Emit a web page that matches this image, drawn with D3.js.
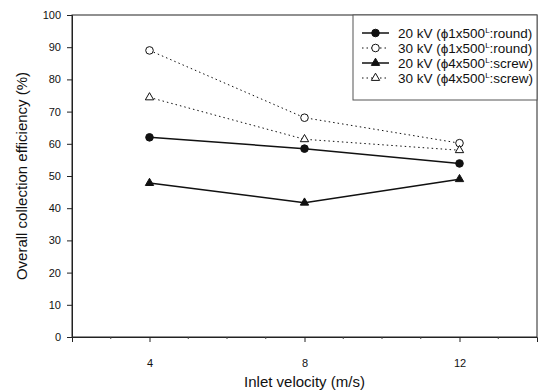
<!DOCTYPE html>
<html>
<head>
<meta charset="utf-8">
<script src="https://cdn.jsdelivr.net/npm/d3@7"></script>
<style>
  body { margin: 0; background: #fff; }
  text { font-family: "Liberation Sans", Arial, sans-serif; fill: #111; }
</style>
</head>
<body>
<div id="chart"></div>
<script>
// data
const velocities = [4, 8, 12];
const round20 = [62.0, 58.5, 53.9];
const round30 = [89.0, 68.1, 60.2];
const screw20 = [47.8, 41.7, 49.0];
const screw30 = [74.4, 61.4, 58.0];
const yTicks = d3.range(0, 101, 10);
const xTicks = [4, 8, 12];

const seriesList = [
    { name: "20 kV (\u03d51x500", tail: ":round)", values: round20, shape: "circle", filled: true, dash: null },
    { name: "30 kV (\u03d51x500", tail: ":round)", values: round30, shape: "circle", filled: false, dash: "1.5,3" },
    { name: "20 kV (\u03d54x500", tail: ":screw)", values: screw20, shape: "triangle", filled: true, dash: null },
    { name: "30 kV (\u03d54x500", tail: ":screw)", values: screw30, shape: "triangle", filled: false, dash: "1.5,3" }
];

const W = 539, H = 391;
const margin = { top: 15, right: 2, bottom: 54, left: 72 };
const width = W - margin.left - margin.right;
const height = H - margin.top - margin.bottom;

const svg = d3.select("#chart").append("svg")
    .attr("width", W)
    .attr("height", H);

const g = svg.append("g")
    .attr("transform", "translate(" + margin.left + "," + margin.top + ")");

const x = d3.scaleLinear().domain([2, 14]).range([0, width]);
const y = d3.scaleLinear().domain([0, 100]).range([height, 0]);

// frame
g.append("rect")
    .attr("width", width)
    .attr("height", height)
    .attr("fill", "none")
    .attr("stroke", "#222")
    .attr("stroke-width", 1);

// axes
const yAxis = g.append("g")
    .call(d3.axisLeft(y).tickValues(yTicks).tickSize(5).tickPadding(6));
const xAxis = g.append("g")
    .attr("transform", "translate(0," + height + ")")
    .call(d3.axisBottom(x).tickValues(xTicks).tickSize(5).tickPadding(17));

[yAxis, xAxis].forEach(a => {
    a.select(".domain").attr("stroke", "#222");
    a.selectAll(".tick line").attr("stroke", "#222");
    a.selectAll("text").attr("font-size", 11).attr("font-family", "Liberation Sans, Arial, sans-serif").attr("fill", "#111");
});

// minor x ticks
g.append("g")
    .attr("transform", "translate(0," + height + ")")
    .selectAll("line")
    .data(d3.range(3, 14).filter(v => !xTicks.includes(v)))
    .enter()
    .append("line")
    .attr("x1", d => x(d)).attr("x2", d => x(d))
    .attr("y1", 0).attr("y2", 2)
    .attr("stroke", "#444");

// axis titles
svg.append("text")
    .attr("x", margin.left + x(8))
    .attr("y", 387)
    .attr("text-anchor", "middle")
    .attr("font-size", 15)
    .text("Inlet velocity (m/s)");

svg.append("text")
    .attr("transform", "translate(27," + (margin.top + height / 2) + ") rotate(-90)")
    .attr("text-anchor", "middle")
    .attr("font-size", 15)
    .text("Overall collection efficiency (%)");

const line = d3.line()
    .x((d, i) => x(velocities[i]))
    .y(d => y(d));

const triangle = d3.symbol().type(d3.symbolTriangle).size(30);

function drawMarker(sel, s) {
    if (s.shape === "circle") {
        sel.append("circle")
            .attr("r", 3.8)
            .attr("fill", s.filled ? "#111" : "#fff")
            .attr("stroke", "#111")
            .attr("stroke-width", 1);
    } else {
        sel.append("path")
            .attr("d", triangle)
            .attr("fill", s.filled ? "#111" : "#fff")
            .attr("stroke", "#111")
            .attr("stroke-width", 1);
    }
}

seriesList.forEach(s => {
    g.append("path")
        .datum(s.values)
        .attr("d", line)
        .attr("fill", "none")
        .attr("stroke", "#111")
        .attr("stroke-width", s.dash ? 1 : 1.5)
        .attr("stroke-dasharray", s.dash);

    g.selectAll(null)
        .data(s.values)
        .enter()
        .append("g")
        .attr("transform", (d, i) => "translate(" + x(velocities[i]) + "," + y(d) + ")")
        .each(function () { drawMarker(d3.select(this), s); });
});

// legend
const legend = svg.append("g").attr("transform", "translate(353,15)");
legend.append("rect")
    .attr("width", 184)
    .attr("height", 85)
    .attr("fill", "#fff")
    .attr("stroke", "#555")
    .attr("stroke-width", 1);

seriesList.forEach((s, i) => {
    const row = legend.append("g").attr("transform", "translate(0," + (18 + i * 15) + ")");
    row.append("line")
        .attr("x1", 9).attr("x2", 36)
        .attr("stroke", "#111")
        .attr("stroke-width", s.dash ? 1 : 1.5)
        .attr("stroke-dasharray", s.dash);
    const m = row.append("g").attr("transform", "translate(22.5,0)");
    drawMarker(m, s);
    const t = row.append("text")
        .attr("x", 45)
        .attr("y", 5)
        .attr("font-size", 13.5);
    t.append("tspan").text(s.name);
    t.append("tspan").attr("dy", -5).attr("font-size", 8).text("L");
    t.append("tspan").attr("dy", 5).text(s.tail);
});
</script>
</body>
</html>
